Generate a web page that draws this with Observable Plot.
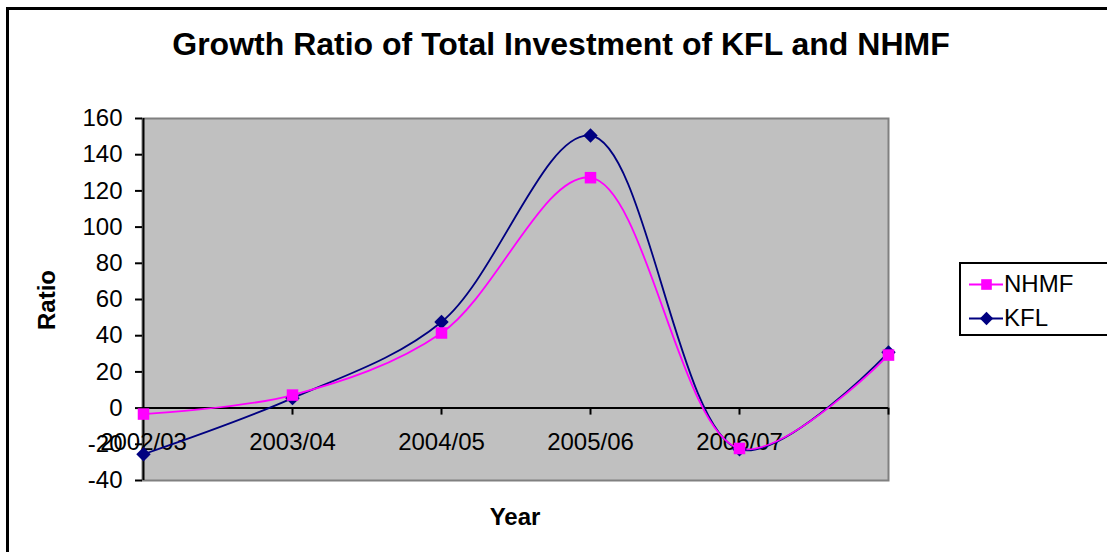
<!DOCTYPE html>
<html>
<head>
<meta charset="utf-8">
<script src="https://cdn.jsdelivr.net/npm/d3@7"></script>
<script src="https://cdn.jsdelivr.net/npm/@observablehq/plot@0.6"></script>
<style>
  html, body { margin: 0; padding: 0; background: #fff; overflow: hidden; }
  #wrap { position: relative; width: 1107px; height: 552px; overflow: hidden; font-family: "Liberation Sans", Arial, sans-serif; }
  #outer { position: absolute; left: 6px; top: 7px; width: 1200px; height: 700px; border: 3px solid #000; box-sizing: border-box; }
  #chart { position: absolute; left: 0; top: 0; }
  #title { position: absolute; left: 0; width: 1122px; top: 26px; text-align: center; font-weight: bold; font-size: 32px; color: #000; white-space: nowrap; }
  #xtitle { position: absolute; left: 415px; width: 200px; top: 503px; text-align: center; font-weight: bold; font-size: 24px; }
  #ytitle { position: absolute; left: 47px; top: 300px; transform: translate(-50%, -50%) rotate(-90deg); font-weight: bold; font-size: 24px; white-space: nowrap; }
  #legend { position: absolute; left: 959px; top: 262px; width: 170px; height: 74px; border: 2px solid #000; box-sizing: border-box; background: #fff; }
  .lrow { position: absolute; left: 8px; height: 30px; display: flex; align-items: center; font-size: 24px; }
  .lrow svg { margin-right: 1px; }
</style>
</head>
<body>
<div id="wrap">
  <div id="outer"></div>
  <div id="chart"></div>
  <div id="title">Growth Ratio of Total Investment of KFL and NHMF</div>
  <div id="xtitle">Year</div>
  <div id="ytitle">Ratio</div>
  <div id="legend"></div>
</div>
<script>
const years = ["2002/03", "2003/04", "2004/05", "2005/06", "2006/07", "2007/08"];
const yearLabels = ["2002/03", "2003/04", "2004/05", "2005/06", "2006/07", ""];
const nhmf = [-3.3, 7.2, 41.5, 127.3, -22.3, 29.3];
const kfl = [-25.5, 5.5, 47.6, 150.6, -22.8, 30.8];
const yTicks = [-40, -20, 0, 20, 40, 60, 80, 100, 120, 140, 160];
const seriesNames = ["NHMF", "KFL"];
const seriesColors = ["#FF00FF", "#000080"];
const seriesSymbols = ["square", "diamond2"];

const rows = [];
years.forEach((yr, i) => rows.push({series: "KFL", year: yr, value: kfl[i]}));
years.forEach((yr, i) => rows.push({series: "NHMF", year: yr, value: nhmf[i]}));

const chart = Plot.plot({
  width: 1107,
  height: 552,
  marginLeft: 142,
  marginRight: 219,
  marginTop: 118,
  marginBottom: 72,
  style: { fontFamily: "Liberation Sans, Arial, sans-serif", fontSize: "24px", background: "transparent", color: "#000" },
  x: { type: "point", domain: years, padding: 0 },
  y: { domain: [-40, 160] },
  color: { domain: seriesNames, range: seriesColors },
  symbol: { domain: seriesNames, range: seriesSymbols },
  marks: [
    Plot.frame({ fill: "#C0C0C0", stroke: "#808080", strokeWidth: 2 }),
    Plot.ruleY([0], { stroke: "#000", strokeWidth: 2 }),
    Plot.ruleX(years, { x: d => d, y1: 0, y2: 0, insetBottom: -7, stroke: "#000", strokeWidth: 2 }),
    Plot.ruleX([years[0]], { x: d => d, stroke: "#000", strokeWidth: 2 }),
    Plot.axisY({ ticks: yTicks, tickFormat: d => String(d), tickSize: 7, tickPadding: 13, strokeWidth: 2, label: null, fontSize: 24 }),
    Plot.axisX({ ticks: [], label: null }),
    Plot.text(years, { x: d => d, y: 0, text: (d, i) => yearLabels[i], dy: 34, fontSize: 24, fill: "#000" }),
    Plot.line(rows, { x: "year", y: "value", z: "series", stroke: "series", strokeWidth: 1.8, curve: "catmull-rom" }),
    Plot.dot(rows, { x: "year", y: "value", symbol: "series", fill: "series", stroke: "none", r: 6.5 })
  ]
});
document.getElementById("chart").appendChild(chart);

// legend
const legend = document.getElementById("legend");
seriesNames.forEach((name, i) => {
  const row = document.createElement("div");
  row.className = "lrow";
  row.style.top = (i === 0 ? 5 : 39) + "px";
  const sw = Plot.plot({
    width: 34, height: 30, margin: 0,
    x: { domain: [0, 1], axis: null },
    y: { domain: [0, 1], axis: null },
    color: { domain: seriesNames, range: seriesColors },
    symbol: { domain: seriesNames, range: seriesSymbols },
    style: { background: "transparent" },
    marks: [
      Plot.ruleY([0.5], { stroke: seriesColors[i], strokeWidth: 2 }),
      Plot.dot([name], { x: 0.5, y: 0.5, symbol: d => d, fill: d => d, r: 6 })
    ]
  });
  row.appendChild(sw);
  const t = document.createElement("span");
  t.textContent = name;
  row.appendChild(t);
  legend.appendChild(row);
});
</script>
</body>
</html>
